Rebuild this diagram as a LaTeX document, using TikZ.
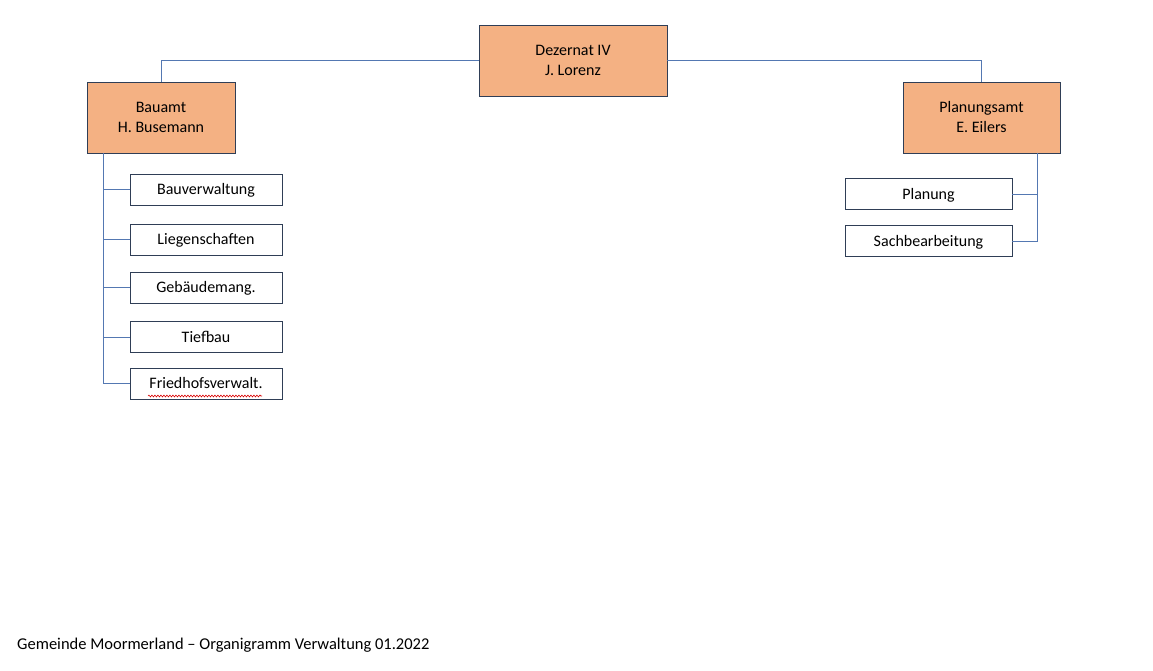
\documentclass[tikz,border=0pt]{standalone}
\usepackage{fontspec}
\setmainfont{Carlito}
\usepackage{xcolor}
\usetikzlibrary{calc, positioning, decorations.pathmorphing}

\definecolor{amtfill}{RGB}{244,177,131}
\definecolor{boxline}{RGB}{47,62,86}
\definecolor{linkline}{RGB}{84,120,178}

\tikzset{
  amt/.style={draw=boxline, fill=amtfill, line width=0.8pt, align=center,
    minimum height=71pt, inner sep=0pt, font=\fontsize{16}{20}\selectfont},
  sub/.style={draw=boxline, fill=white, line width=0.8pt, align=center,
    minimum height=31pt, inner sep=0pt, text height=13.5pt, text depth=3.2pt,
    font=\fontsize{16}{19}\selectfont},
  link/.style={draw=linkline, line width=0.8pt}
}

\begin{document}
\begin{tikzpicture}[x=1pt, y=-1pt]
  % Fix the page to the size of the reference
  \useasboundingbox (0,0) rectangle (1153,670);

  % Head and the two offices
  \node[amt, minimum width=188pt] (dez) at (573,60.5) {Dezernat IV\\J. Lorenz};
  \node[amt, minimum width=148pt] (bau) at (161,117.5) {Bauamt\\H. Busemann};
  \node[amt, minimum width=157pt] (plan) at (981.5,117.5) {Planungsamt\\E. Eilers};

  % Connect head to offices
  \draw[link] (dez.west) -| (bau.north);
  \draw[link] (dez.east) -| (plan.north);

  % Sub units of Bauamt
  \node[sub, minimum width=152pt] (bv) at (206,189.5) {Bauverwaltung};
  \node[sub, minimum width=152pt] (lg) at (206,239.5) {Liegenschaften};
  \node[sub, minimum width=152pt] (gm) at (206,287.5) {Gebäudemang.};
  \node[sub, minimum width=152pt] (tb) at (206,337) {Tiefbau};
  \node[sub, minimum width=152pt] (fv) at (206,383.5) {Friedhofsverwalt.};

  % Spine of Bauamt
  \coordinate (bs) at (103,153);
  \draw[link] (bs) |- (fv.west);
  \foreach \u in {bv,lg,gm,tb}
    \draw[link] (bs |- \u.west) -- (\u.west);

  % Spell check mark under Friedhofsverwalt.
  \draw[red!85!black, line width=0.6pt, decorate,
    decoration={snake, amplitude=0.9pt, segment length=3pt}]
    (148,396) -- (262,396);

  % Sub units of Planungsamt
  \node[sub, minimum width=167pt] (pl) at (928.5,194) {Planung};
  \node[sub, minimum width=167pt] (sb) at (928.5,241) {Sachbearbeitung};

  % Spine of Planungsamt
  \coordinate (ps) at (1037,153);
  \draw[link] (ps) |- (sb.east);
  \draw[link] (ps |- pl.east) -- (pl.east);

  % Footer
  \node[anchor=west, inner sep=0pt, font=\fontsize{16.5}{19}\selectfont]
    (foot) at (17,645) {Gemeinde Moormerland – Organigramm Verwaltung 01.2022};
\end{tikzpicture}
\end{document}
